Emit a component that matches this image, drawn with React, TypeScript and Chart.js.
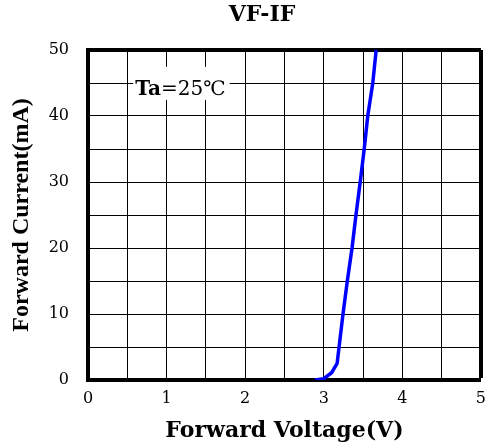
import { useEffect, useRef } from "react";
import { Chart, registerables } from "chart.js";

Chart.register(...registerables);

// ---- data ----
const voltage = [2.89, 3.0, 3.1, 3.17, 3.2, 3.245, 3.3, 3.36, 3.41, 3.464, 3.515, 3.56, 3.624, 3.667];
const current = [0, 0.2, 1.1, 2.5, 5.5, 10, 15, 20, 25, 30, 35, 40, 45, 50];
const xTickLabels = ["0", "1", "2", "3", "4", "5"];
const yTickLabels = ["0", "10", "20", "30", "40", "50"];
const chartTitle = "VF-IF";
const xTitle = "Forward Voltage(V)";
const yTitle = "Forward Current(mA)";
const noteBold = "Ta";
const noteRest = "=25\u2103";
const noteAnchorV = 0.6; // volts
const noteAnchorI = 43.2; // mA (text baseline)

const SERIF = "'DejaVu Serif', 'Noto Sans CJK SC', serif";

const notePlugin = {
  id: "notePlugin",
  afterLayout(chart: any) {
    const t = chart.titleBlock;
    if (t) {
      t.left = 38;
      t.right = 486;
    }
  },
  afterDraw(chart: any) {
    const { ctx, scales } = chart;
    const x = scales.x.getPixelForValue(noteAnchorV);
    const y = scales.y.getPixelForValue(noteAnchorI);
    ctx.save();
    ctx.font = `bold 20px ${SERIF}`;
    const wBold = ctx.measureText(noteBold).width;
    ctx.font = `20px ${SERIF}`;
    const wRest = ctx.measureText(noteRest).width;
    ctx.fillStyle = "#ffffff";
    ctx.fillRect(x - 2, y - 28, wBold + wRest + 6, 33);
    ctx.fillStyle = "#000000";
    ctx.textBaseline = "alphabetic";
    ctx.textAlign = "left";
    ctx.font = `bold 20px ${SERIF}`;
    ctx.fillText(noteBold, x, y);
    ctx.font = `20px ${SERIF}`;
    ctx.fillText(noteRest, x + wBold, y);
    ctx.restore();
  },
};

export default function App() {
  const ref = useRef<HTMLCanvasElement | null>(null);

  useEffect(() => {
    if (!ref.current) return;
    const points = voltage.map((v, i) => ({ x: v, y: current[i] }));
    const chart = new Chart(ref.current, {
      type: "line",
      data: {
        datasets: [
          {
            data: points,
            borderColor: "#0000ff",
            borderWidth: 3.5,
            pointRadius: 0,
            tension: 0,
            fill: false,
          },
        ],
      },
      options: {
        animation: false,
        responsive: false,
        layout: { padding: { left: 0, right: 4, top: 0, bottom: 0 } },
        plugins: {
          legend: { display: false },
          tooltip: { enabled: false },
          title: {
            display: true,
            text: chartTitle,
            color: "#000",
            font: { family: SERIF, size: 22, weight: "bold", lineHeight: 1.2 },
            padding: { top: 2, bottom: 21.6 },
          },
        },
        scales: {
          x: {
            type: "linear",
            min: 0,
            max: 5,
            afterFit: (s: any) => {
              s.height = 68;
            },
            ticks: {
              stepSize: 0.5,
              autoSkip: false,
              maxRotation: 0,
              padding: 0,
              color: "#000",
              font: { family: SERIF, size: 16, lineHeight: 1.2 },
              callback: (value: any) => {
                const s = String(value);
                return xTickLabels.includes(s) ? s : "";
              },
            },
            grid: {
              color: "#000",
              lineWidth: (c: any) => (c.tick && c.tick.value === 5 ? 4 : 1),
              drawTicks: true,
              tickLength: 9,
              tickColor: "rgba(0,0,0,0)",
            },
            border: { display: true, width: 4, color: "#000" },
            title: {
              display: true,
              text: xTitle,
              color: "#000",
              font: { family: SERIF, size: 22, weight: "bold", lineHeight: 1 },
              padding: { top: 0, bottom: 6 },
            },
          },
          y: {
            type: "linear",
            min: 0,
            max: 50,
            afterFit: (s: any) => {
              s.width = 88;
            },
            ticks: {
              stepSize: 5,
              autoSkip: false,
              padding: 19,
              color: "#000",
              font: { family: SERIF, size: 16, lineHeight: 1.2 },
              callback: (value: any) => {
                const s = String(value);
                return yTickLabels.includes(s) ? s : "";
              },
            },
            grid: {
              color: "#000",
              lineWidth: (c: any) => (c.tick && c.tick.value === 50 ? 4 : 1),
              drawTicks: false,
            },
            border: { display: true, width: 4, color: "#000" },
            title: {
              display: true,
              text: yTitle,
              color: "#000",
              font: { family: "'Liberation Serif', serif", size: 24, weight: "bold", lineHeight: 1 },
              padding: { top: 10, bottom: 0 },
            },
          },
        },
      },
      plugins: [notePlugin],
    } as any);
    return () => chart.destroy();
  }, []);

  return (
    <div style={{ position: "absolute", left: 0, top: 0, width: 486, height: 448, background: "#fff" }}>
      <canvas ref={ref} width={486} height={448} style={{ width: 486, height: 448, display: "block" }} />
    </div>
  );
}
